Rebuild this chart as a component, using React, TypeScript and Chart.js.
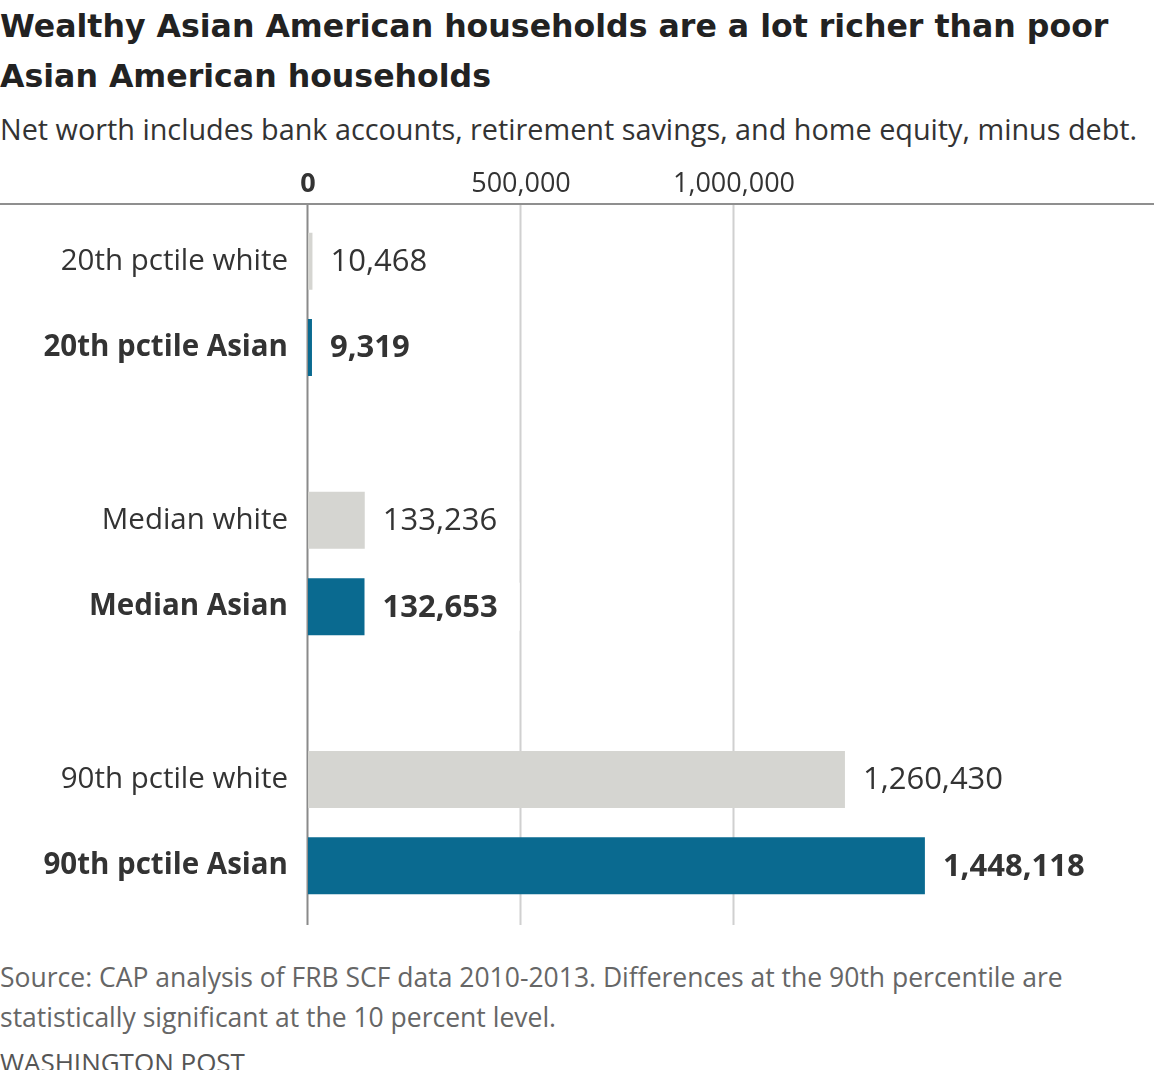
import React, { useEffect, useRef } from "react";
import { Chart, registerables } from "chart.js";

Chart.register(...registerables);

const categories = [
  "20th pctile white",
  "20th pctile Asian",
  "",
  "Median white",
  "Median Asian",
  "",
  "90th pctile white",
  "90th pctile Asian",
];
const netWorth: (number | null)[] = [10468, 9319, null, 133236, 132653, null, 1260430, 1448118];
const tickValues = [0, 500000, 1000000];
const xMax = 1750000;

const FONT = "'Open Sans', Roboto, 'Liberation Sans', sans-serif";
const TITLE_FONT = "'DejaVu Sans', 'Open Sans', sans-serif";
const WHITE_COLOR = "#d5d5d1";
const ASIAN_COLOR = "#0a6a90";
const TEXT = "#333333";

const isAsian = (i: number) => categories[i].includes("Asian");

const linesPlugin = {
  id: "wpLines",
  beforeDatasetsDraw(chart: any) {
    const { ctx, chartArea, scales } = chart;
    const x = scales.x;
    const top = chartArea.top - 14;
    const bottom = chartArea.bottom + 16;
    ctx.save();
    tickValues.forEach((v) => {
      const px = Math.round(x.getPixelForValue(v)) - 0.5;
      ctx.strokeStyle = v === 0 ? "#8a8a8a" : "#d0d0d0";
      ctx.lineWidth = 2;
      ctx.beginPath();
      ctx.moveTo(px, top);
      ctx.lineTo(px, bottom);
      ctx.stroke();
    });
    ctx.strokeStyle = "#8f8f8f";
    ctx.lineWidth = 2;
    ctx.beginPath();
    ctx.moveTo(0, top);
    ctx.lineTo(chart.width, top);
    ctx.stroke();
    ctx.restore();
  },
  afterDatasetsDraw(chart: any) {
    const { ctx } = chart;
    const meta = chart.getDatasetMeta(0);
    ctx.save();
    meta.data.forEach((bar: any, i: number) => {
      const v = netWorth[i];
      if (v === null || v === undefined) return;
      const bold = isAsian(i);
      const text = v.toLocaleString("en-US");
      ctx.font = `${bold ? "bold " : ""}31px ${FONT}`;
      const w = ctx.measureText(text).width;
      const tx = bar.x + 18;
      ctx.fillStyle = "#ffffff";
      const h = bold ? 48 : 38;
      ctx.fillRect(tx - 4, bar.y - h / 2, w + 26, h);
      ctx.fillStyle = TEXT;
      ctx.textAlign = "left";
      ctx.textBaseline = "middle";
      ctx.fillText(text, tx, bar.y + 1);
    });
    ctx.restore();
  },
};

function NetWorthChart() {
  const ref = useRef<HTMLCanvasElement | null>(null);
  useEffect(() => {
    if (!ref.current) return;
    const chart = new Chart(ref.current, {
      type: "bar",
      data: {
        labels: categories,
        datasets: [
          {
            data: netWorth,
            backgroundColor: categories.map((_, i) => (isAsian(i) ? ASIAN_COLOR : WHITE_COLOR)),
            borderWidth: 0,
            categoryPercentage: 1,
            barPercentage: 0.66,
          },
        ],
      },
      options: {
        indexAxis: "y",
        animation: false,
        responsive: false,
        maintainAspectRatio: false,
        layout: { padding: { left: 0, right: 100.5, top: 0, bottom: 41 } },
        plugins: { legend: { display: false }, tooltip: { enabled: false } },
        scales: {
          x: {
            position: "top",
            min: 0,
            max: xMax,
            afterBuildTicks: (scale: any) => {
              scale.ticks = tickValues.map((v) => ({ value: v }));
            },
            afterFit: (scale: any) => {
              scale.height = 68;
            },
            grid: { display: false, drawTicks: false },
            border: { display: false },
            ticks: {
              padding: 17,
              color: TEXT,
              font: (c: any) => ({
                family: FONT,
                size: 27,
                weight: c.tick && c.tick.value === 0 ? "bold" : "normal",
              }),
              callback: (v: any) => Number(v).toLocaleString("en-US"),
            },
          },
          y: {
            afterFit: (scale: any) => {
              scale.width = 308;
            },
            grid: { display: false, drawTicks: false },
            border: { display: false },
            ticks: {
              padding: 20,
              color: TEXT,
              autoSkip: false,
              font: (c: any) => ({
                family: FONT,
                size: 29.5,
                weight: isAsian(c.index) ? "bold" : "normal",
              }),
            },
          },
        },
      },
      plugins: [linesPlugin],
    });
    return () => chart.destroy();
  }, []);
  return <canvas ref={ref} width={1154} height={800} style={{ display: "block" }} />;
}

export default function App() {
  return (
    <div
      style={{
        position: "relative",
        width: 1154,
        height: 1070,
        overflow: "hidden",
        background: "#fff",
        fontFamily: FONT,
      }}
    >
      <style>{"body{margin:0}"}</style>
      <div
        style={{
          position: "absolute",
          left: 0,
          top: 1.1,
          fontFamily: TITLE_FONT,
          fontSize: 31.6,
          fontWeight: "bold",
          lineHeight: "50px",
          color: "#222",
          whiteSpace: "nowrap",
        }}
      >
        Wealthy Asian American households are a lot richer than poor
        <br />
        Asian American households
      </div>
      <div
        style={{
          position: "absolute",
          left: 0,
          top: 114.3,
          fontSize: 28.8,
          lineHeight: "30px",
          color: "#333",
          whiteSpace: "nowrap",
        }}
      >
        Net worth includes bank accounts, retirement savings, and home equity, minus debt.
      </div>
      <div style={{ position: "absolute", left: 0, top: 150, width: 1154, height: 800 }}>
        <NetWorthChart />
      </div>
      <div
        style={{
          position: "absolute",
          left: 0,
          top: 956.7,
          fontSize: 26.5,
          lineHeight: "40px",
          color: "#666",
          whiteSpace: "nowrap",
        }}
      >
        Source: CAP analysis of FRB SCF data 2010-2013. Differences at the 90th percentile are
        <br />
        statistically significant at the 10 percent level.
      </div>
      <div
        style={{
          position: "absolute",
          left: 0,
          top: 1041.7,
          fontSize: 26,
          lineHeight: "40px",
          color: "#555",
          whiteSpace: "nowrap",
        }}
      >
        WASHINGTON POST
      </div>
    </div>
  );
}
